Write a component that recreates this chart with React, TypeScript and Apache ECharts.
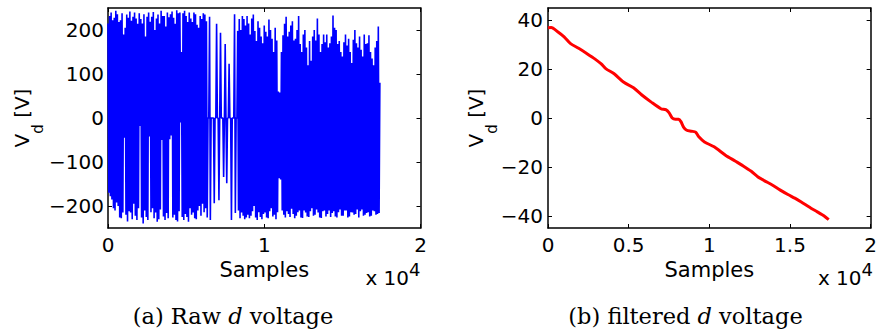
import React, { useEffect, useRef } from "react";
import * as echarts from "echarts";

// ---------- data ----------
// Raw d voltage: listed points every rawStep samples (alternating peaks / troughs)
const rawStep = 50;
const rawVd = [
  215, -170, 232, -178, 240, -185, 222, -205, 228, -210, 244, -192, 236, -200, 218, -226, 222, -228, 238, -215,
  190, -45, 205, -220, 235, -235, 228, -212, 242, -215, 221, -230, 230, -195, 240, -222, 226, -232, 214, -205,
  238, -18, 225, -226, 215, -240, 236, -210, 185, -225, 230, -232, 240, -42, 219, -214, 230, -205, 241, -228,
  200, -215, 226, -236, 235, -230, 215, -208, 244, -50, 232, -224, 232, -232, 208, -216, 240, -228, 229, -48,
  236, -40, 242, -226, 228, -220, 214, -232, 245, -235, 238, -212, 240, -10, 150, -225, 238, -232, 244, -218,
  232, -225, 218, -236, 240, -205, 226, -220, 218, -215, 240, -228, 236, -230, 212, -210, 205, -200, 232, -222,
  225, -195, 238, -214, 235, -205, 220, -226, 0, 0, 230, -232, 0, 0, 0, 0, -194, 0, 0, 214,
  0, 0, -187, 0, 194, 0, 0, 0, -134, 0, 168, 0, -148, 0, 0, 123, 0, 0, -232, 0,
  0, 0, 236, -216, 0, 0, 198, -210, 225, -228, 200, -215, 232, -222, 225, -230, 210, -226, 232, -220,
  215, -228, 190, -222, 226, -212, 235, -200, 198, -226, 175, -232, 220, -214, 205, -225, 185, -230, 170, -218,
  210, -215, 196, -226, 185, -228, 224, -212, 200, -205, 180, -224, 150, -220, 205, -230, 176, -214, 60, -137,
  58, -140, 150, -210, 188, -220, 214, -226, 230, -212, 185, -218, 196, -225, 210, -206, 220, -218, 176, -228,
  180, -222, 200, -214, 232, -210, 168, -226, 150, -227, 190, -210, 200, -215, 160, -224, 120, -225, 175, -212,
  130, -205, 185, -222, 200, -220, 176, -208, 226, -215, 190, -226, 150, -227, 168, -212, 190, -210, 172, -224,
  190, -218, 160, -210, 170, -225, 185, -216, 233, -212, 205, -224, 200, -226, 168, -214, 175, -208, 150, -222,
  140, -222, 172, -210, 190, -210, 165, -226, 180, -224, 150, -214, 125, -215, 178, -220, 200, -218, 170, -208,
  160, -226, 185, -212, 155, -208, 140, -222, 190, -220, 168, -216, 170, -214, 188, -224, 150, -222, 135, -210,
  120, -212, 160, -220, 175, -218, 208, -216, 80,
];

// Filtered d voltage
const filtX = [
  0, 200, 600, 1000, 1400, 1900, 2400, 2900, 3300, 3600, 4100, 4700, 5300, 5800, 6400,
  7000, 7300, 7500, 7700, 7900, 8100, 8250, 8400, 8600, 8900, 9150, 9350, 9700, 10300,
  11000, 11600, 12100, 12600, 13000, 13400, 13900, 14400, 14900, 15300, 15700, 16300,
  16700, 17100, 17400,
];
const filtVd = [
  36.9, 37.0, 35.3, 33.2, 30.4, 28.5, 26.4, 24.2, 22.1, 20.1, 18.1, 14.6, 12.4, 9.5, 6.5,
  3.8, 3.4, 2.2, 0.0, -0.5, -0.5, -1.6, -3.7, -5.0, -5.4, -5.8, -7.7, -9.8, -11.8,
  -15.2, -17.6, -19.6, -21.8, -24.0, -25.6, -27.4, -29.5, -31.4, -32.8, -34.4, -36.9,
  -38.4, -40.0, -41.6,
];

const rawYTicks = [-200, -100, 0, 100, 200];
const filtYTicks = [-40, -20, 0, 20, 40];
const xLabel = "Samples";
const captionA = "(a) Raw {i|d} voltage";
const captionB = "(b) filtered {i|d} voltage";

// ---------- styles ----------
const SANS = "DejaVu Sans";
const SERIF = "DejaVu Serif";
const fmtNum = (v: number) => (v < 0 ? "\u2212" + Math.abs(v) : String(v));

const axisLine = { show: true, onZero: false, lineStyle: { color: "#000", width: 1.5 } };
const tickStyle = { inside: true, length: 4, lineStyle: { color: "#000", width: 1 } };

function xAxes(gridIndex: number, interval: number) {
  const bottom = {
    gridIndex,
    type: "value",
    position: "bottom",
    min: 0,
    max: 20000,
    interval,
    axisLine,
    axisTick: tickStyle,
    splitLine: { show: false },
    axisLabel: {
      fontFamily: SANS,
      fontSize: 20,
      color: "#000",
      margin: 7,
      showMinLabel: true,
      showMaxLabel: true,
      formatter: (v: number) => String(v / 10000),
    },
    name: xLabel,
    nameLocation: "middle",
    nameGap: 28,
    nameTextStyle: { fontFamily: SANS, fontSize: 21, color: "#000" },
  };
  const top = {
    gridIndex,
    type: "value",
    position: "top",
    min: 0,
    max: 20000,
    interval,
    axisLine,
    axisTick: tickStyle,
    splitLine: { show: false },
    axisLabel: { show: false },
  };
  return [bottom, top];
}

function yAxes(gridIndex: number, min: number, max: number, ticks: number[], margin: number) {
  const left = {
    gridIndex,
    type: "value",
    position: "left",
    min,
    max,
    axisLine,
    axisTick: { ...tickStyle, customValues: ticks },
    splitLine: { show: false },
    axisLabel: {
      customValues: ticks,
      fontFamily: SANS,
      fontSize: 20,
      color: "#000",
      margin,
      formatter: fmtNum,
    },
  };
  const right = {
    gridIndex,
    type: "value",
    position: "right",
    min,
    max,
    axisLine,
    axisTick: { ...tickStyle, customValues: ticks },
    splitLine: { show: false },
    axisLabel: { show: false, customValues: ticks },
  };
  return [left, right];
}

function yLabel(x: number) {
  return {
    type: "text",
    x,
    y: 118,
    rotation: Math.PI / 2,
    silent: true,
    style: {
      text: "{a|V}{s|d}{a| [V]}",
      align: "center",
      verticalAlign: "middle",
      fill: "#000",
      rich: {
        a: { fontFamily: SANS, fontSize: 20, height: 20, verticalAlign: "top", fill: "#000" },
        s: { fontFamily: SANS, fontSize: 15, height: 16, lineHeight: 34, verticalAlign: "bottom", fill: "#000" },
      },
    },
  };
}

function expLabel(x: number) {
  return {
    type: "text",
    x,
    y: 259,
    silent: true,
    style: {
      text: "{b|x 10}{s|4}",
      align: "right",
      verticalAlign: "top",
      fill: "#000",
      rich: {
        b: { fontFamily: SANS, fontSize: 20, height: 20, lineHeight: 29, verticalAlign: "bottom", fill: "#000" },
        s: { fontFamily: SANS, fontSize: 18, height: 20, verticalAlign: "top", fill: "#000" },
      },
    },
  };
}

function caption(x: number, text: string) {
  return {
    type: "text",
    x,
    y: 316,
    silent: true,
    style: {
      text,
      align: "center",
      verticalAlign: "middle",
      fontFamily: SERIF,
      fontSize: 22.5,
      fill: "#000",
      rich: {
        i: { fontFamily: SERIF, fontSize: 22.5, fontStyle: "italic", fill: "#000" },
      },
    },
  };
}

export default function App() {
  const ref = useRef<HTMLDivElement>(null);

  useEffect(() => {
    if (!ref.current) return;
    const chart = echarts.init(ref.current, null, { renderer: "svg" });
    const option: any = {
      animation: false,
      backgroundColor: "#fff",
      grid: [
        { left: 108, top: 8, width: 312.5, height: 220, containLabel: false },
        { left: 548, top: 8, width: 325, height: 220, containLabel: false },
      ],
      xAxis: [...xAxes(0, 10000), ...xAxes(1, 5000)],
      yAxis: [
        ...yAxes(0, -250, 250, rawYTicks, 4),
        ...yAxes(1, -45, 45, filtYTicks, 5),
      ],
      series: [
        {
          type: "line",
          xAxisIndex: 0,
          yAxisIndex: 0,
          data: rawVd.map((v, i) => [i * rawStep, v]),
          showSymbol: false,
          symbol: "none",
          clip: true,
          silent: true,
          lineStyle: { color: "#0000ff", width: 1.6 },
        },
        {
          type: "line",
          xAxisIndex: 2,
          yAxisIndex: 2,
          data: filtX.map((x, i) => [x, filtVd[i]]),
          showSymbol: false,
          symbol: "none",
          smooth: 0.25,
          clip: true,
          silent: true,
          lineStyle: { color: "#ff0000", width: 3 },
        },
      ],
      graphic: [
        yLabel(29.2),
        yLabel(482.8),
        expLabel(420.5),
        expLabel(873),
        caption(233, captionA),
        caption(685.5, captionB),
      ],
    };
    chart.setOption(option);
    return () => chart.dispose();
  }, []);

  return (
    <div
      ref={ref}
      style={{ position: "fixed", left: 0, top: 0, width: 880, height: 336, background: "#fff" }}
    />
  );
}
